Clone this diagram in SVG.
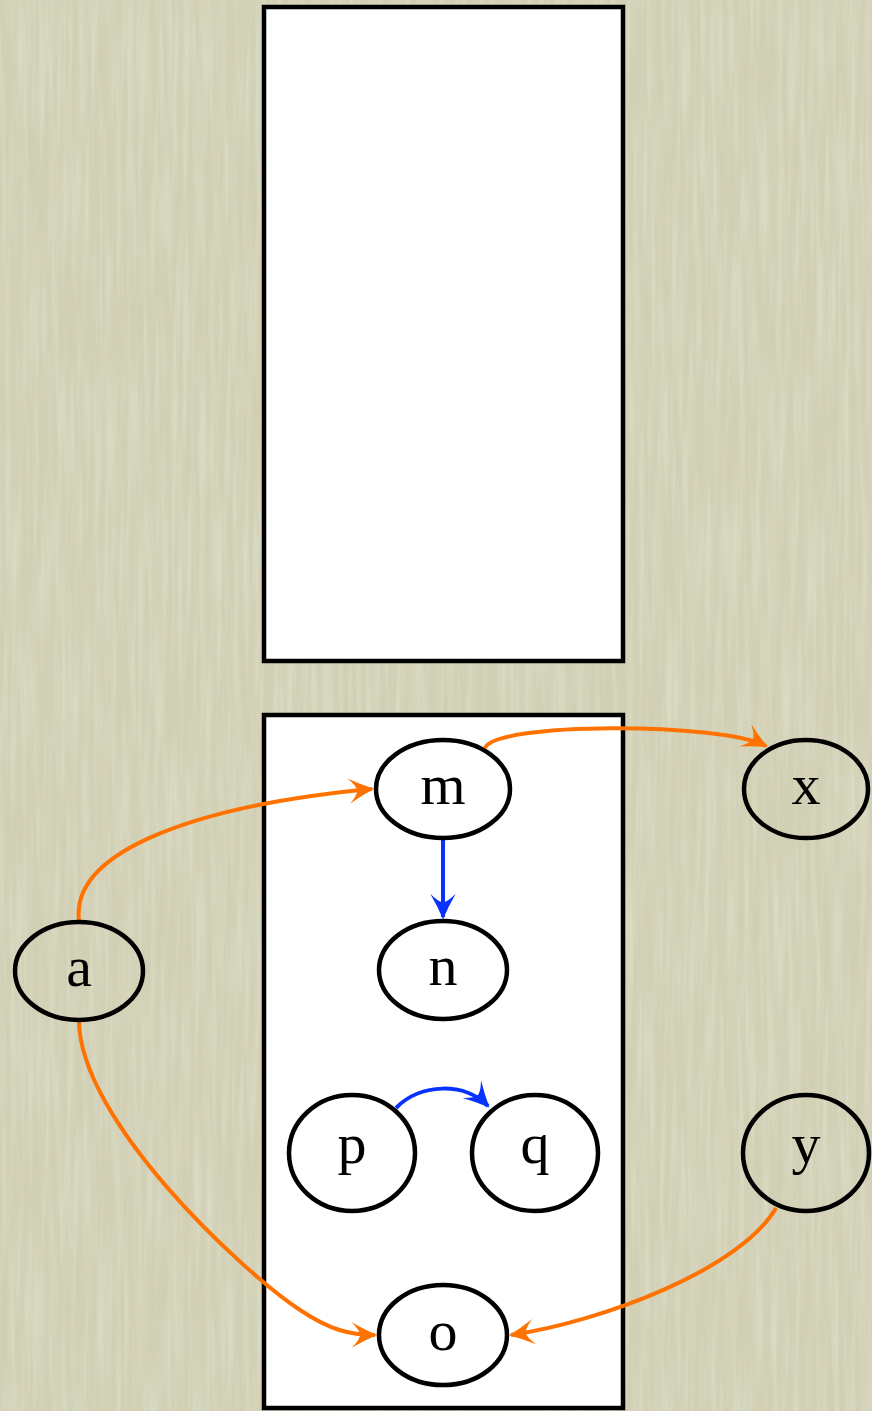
<svg xmlns="http://www.w3.org/2000/svg" width="872" height="1411" viewBox="0 0 872 1411">
  <style>
    .frame { fill: #ffffff; stroke: #000000; stroke-width: 4.5; }
    .node ellipse { fill: #ffffff; stroke: #000000; stroke-width: 4.5; }
    .node.out ellipse { fill: none; }
    .node text { font-family: "Liberation Serif", "DejaVu Serif", serif; font-size: 58px; fill: #000000; text-anchor: middle; }
    .edge { fill: none; stroke-width: 4; }
    .orange { stroke: #ff7200; }
    .blue { stroke: #0a32ff; }
  </style>
  <defs>
    <filter id="paper" x="0" y="0" width="100%" height="100%">
      <feTurbulence type="fractalNoise" baseFrequency="0.18 0.008" numOctaves="3" seed="7" result="n"/>
      <feColorMatrix in="n" type="matrix" values="0 0 0 0 1  0 0 0 0 1  0 0 0 0 0.95  0 0 0 -1.6 1.05" />
    </filter>
    <marker id="arrowOrange" markerUnits="userSpaceOnUse" markerWidth="34" markerHeight="34" viewBox="-26 -16 30 32" refX="0" refY="0" orient="auto">
      <path d="M2,0 Q-10,-5 -22,-12 Q-14,-4 -14,0 Q-14,4 -22,12 Q-10,5 2,0 Z" fill="#ff7200"/>
    </marker>
    <marker id="arrowBlue" markerUnits="userSpaceOnUse" markerWidth="34" markerHeight="34" viewBox="-26 -16 30 32" refX="0" refY="0" orient="auto">
      <path d="M2,0 Q-10,-5 -22,-12 Q-14,-4 -14,0 Q-14,4 -22,12 Q-10,5 2,0 Z" fill="#0a32ff"/>
    </marker>
  </defs>

  <!-- paper background -->
  <rect x="0" y="0" width="872" height="1411" fill="#d1d0b5"/>
  <rect x="0" y="0" width="872" height="1411" filter="url(#paper)" opacity="0.25"/>

  <!-- containers -->
  <g id="box-top">
    <rect class="frame" x="264" y="7" width="359" height="654"/>
  </g>
  <g id="box-bottom">
    <rect class="frame" x="264" y="715" width="359" height="693"/>
  </g>

  <!-- connectors -->
  <g id="connectors">
    <path class="edge orange" d="M79,921 C70,850 200,805 372,789" marker-end="url(#arrowOrange)"/>
    <path class="edge orange" d="M79,1021 C80,1120 240,1270 300,1310 C330,1330 350,1335 375,1335" marker-end="url(#arrowOrange)"/>
    <path class="edge orange" d="M485,748 C495,722 720,722 766,746" marker-end="url(#arrowOrange)"/>
    <path class="edge orange" d="M776,1208 C740,1270 600,1322 511,1335" marker-end="url(#arrowOrange)"/>
    <path class="edge blue" d="M443,838 L443,917" marker-end="url(#arrowBlue)"/>
    <path class="edge blue" d="M396,1108 C420,1083 465,1082 488,1106" marker-end="url(#arrowBlue)"/>
  </g>

  <!-- nodes -->
  <g id="node-m" class="node"><ellipse cx="443" cy="789" rx="67" ry="49"/><text x="443" y="804">m</text></g>
  <g id="node-n" class="node"><ellipse cx="443" cy="970" rx="64" ry="49"/><text x="443" y="985">n</text></g>
  <g id="node-a" class="node out"><ellipse cx="79" cy="971" rx="64" ry="49"/><text x="79" y="986">a</text></g>
  <g id="node-x" class="node out"><ellipse cx="806" cy="789" rx="62" ry="49"/><text x="806" y="804">x</text></g>
  <g id="node-p" class="node"><ellipse cx="352" cy="1153" rx="63" ry="58"/><text x="352" y="1163">p</text></g>
  <g id="node-q" class="node"><ellipse cx="535" cy="1153" rx="63" ry="58"/><text x="535" y="1163">q</text></g>
  <g id="node-y" class="node out"><ellipse cx="806" cy="1153" rx="63" ry="58"/><text x="806" y="1163">y</text></g>
  <g id="node-o" class="node"><ellipse cx="443" cy="1335" rx="64" ry="50"/><text x="443" y="1350">o</text></g>
</svg>
